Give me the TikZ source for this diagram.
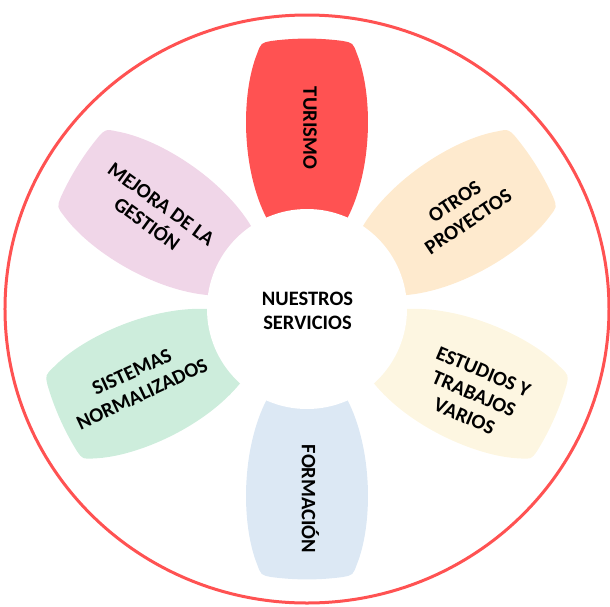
\documentclass[tikz,border=0pt]{standalone}
\usepackage{fontspec}
\setmainfont{Carlito}
\usepackage{tikz}

\definecolor{ringred}{RGB}{255,82,82}
\definecolor{turismo}{RGB}{255,82,82}
\definecolor{otros}{RGB}{254,234,206}
\definecolor{estudios}{RGB}{253,246,225}
\definecolor{formacion}{RGB}{220,232,244}
\definecolor{sistemas}{RGB}{205,237,220}
\definecolor{mejora}{RGB}{240,214,232}

\tikzset{
  petaltext/.style={align=center, font=\fontsize{20.5}{24.3}\selectfont\bfseries, inner sep=0pt}
}

\begin{document}
\begin{tikzpicture}[x=1pt, y=1pt]
        \useasboundingbox (-307,-297) rectangle (303,309);
        % outer ring
        \draw[ringred, line width=3pt] (0,0) ellipse (302 and 294);
        % petals
        \foreach \ang/\col in {90/turismo, 32/otros, -24/estudios, -90/formacion, 204/sistemas, 148/mejora}
            \fill[\col, rotate=\ang] (90,-40) .. controls (140,-66) and (215,-66) .. (255,-50)
                .. controls (266,-46) .. (268,-36)
                arc[start angle=-7.65, end angle=7.65, radius=270.4]
                .. controls (266,46) .. (255,50)
                .. controls (215,66) and (140,66) .. (90,40) -- (70,0) -- cycle;
        % centre
        \fill[white] (0,0) circle (100);
        \node[petaltext] (servicios) at (0.5,-2) {NUESTROS\\SERVICIOS};
        \node[petaltext, rotate=-90] (turismo) at (3,181) {TURISMO};
        \node[petaltext, rotate=34] (otros) at (154.5,97.5) {OTROS\\PROYECTOS};
        \node[petaltext, rotate=-23] (estudios) at (167,-85) {ESTUDIOS Y\\TRABAJOS\\VARIOS};
        \node[petaltext, rotate=-90] (formacion) at (3.5,-190) {FORMACIÓN};
        \node[petaltext, rotate=25] (sistemas) at (-170,-74) {SISTEMAS\\NORMALIZADOS};
        \node[petaltext, rotate=-36] (mejora) at (-153,95) {MEJORA DE LA\\GESTIÓN};
    \end{tikzpicture}
\end{document}
